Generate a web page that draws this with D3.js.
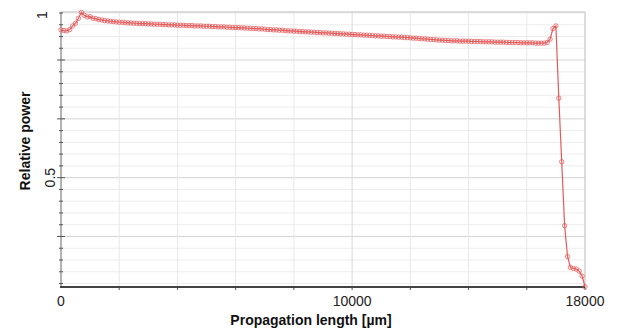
<!DOCTYPE html>
<html>
<head>
<meta charset="utf-8">
<script src="https://cdn.jsdelivr.net/npm/d3@7"></script>
<style>
  body { margin: 0; background: #fff; }
  svg { display: block; font-family: Arial, "Liberation Sans", sans-serif; }
</style>
</head>
<body>
<div id="chart"></div>
<script>
// Propagation length [µm], sampled every 100 µm
const positions = [
  0, 100, 200, 300, 400, 500, 600, 700, 800, 900,
  1000, 1100, 1200, 1300, 1400, 1500, 1600, 1700, 1800, 1900,
  2000, 2100, 2200, 2300, 2400, 2500, 2600, 2700, 2800, 2900,
  3000, 3100, 3200, 3300, 3400, 3500, 3600, 3700, 3800, 3900,
  4000, 4100, 4200, 4300, 4400, 4500, 4600, 4700, 4800, 4900,
  5000, 5100, 5200, 5300, 5400, 5500, 5600, 5700, 5800, 5900,
  6000, 6100, 6200, 6300, 6400, 6500, 6600, 6700, 6800, 6900,
  7000, 7100, 7200, 7300, 7400, 7500, 7600, 7700, 7800, 7900,
  8000, 8100, 8200, 8300, 8400, 8500, 8600, 8700, 8800, 8900,
  9000, 9100, 9200, 9300, 9400, 9500, 9600, 9700, 9800, 9900,
  10000, 10100, 10200, 10300, 10400, 10500, 10600, 10700, 10800, 10900,
  11000, 11100, 11200, 11300, 11400, 11500, 11600, 11700, 11800, 11900,
  12000, 12100, 12200, 12300, 12400, 12500, 12600, 12700, 12800, 12900,
  13000, 13100, 13200, 13300, 13400, 13500, 13600, 13700, 13800, 13900,
  14000, 14100, 14200, 14300, 14400, 14500, 14600, 14700, 14800, 14900,
  15000, 15100, 15200, 15300, 15400, 15500, 15600, 15700, 15800, 15900,
  16000, 16100, 16200, 16300, 16400, 16500, 16600, 16700, 16800, 16900,
  17000, 17100, 17200, 17300, 17400, 17500, 17600, 17700, 17800, 17900,
  18000
];

// Relative power
const power = [
  0.946, 0.944, 0.943, 0.947, 0.958, 0.966, 0.981, 0.999, 0.990, 0.985,
  0.986, 0.981, 0.980, 0.977, 0.976, 0.974, 0.973, 0.972, 0.971, 0.970,
  0.969, 0.969, 0.968, 0.967, 0.967, 0.966, 0.966, 0.965, 0.965, 0.965,
  0.964, 0.964, 0.963, 0.963, 0.963, 0.962, 0.962, 0.961, 0.961, 0.961,
  0.960, 0.960, 0.960, 0.959, 0.959, 0.959, 0.958, 0.958, 0.958, 0.957,
  0.957, 0.957, 0.956, 0.956, 0.955, 0.955, 0.955, 0.954, 0.954, 0.953,
  0.953, 0.953, 0.952, 0.952, 0.951, 0.951, 0.950, 0.950, 0.949, 0.949,
  0.948, 0.947, 0.947, 0.946, 0.946, 0.945, 0.945, 0.944, 0.943, 0.943,
  0.942, 0.942, 0.941, 0.941, 0.940, 0.940, 0.939, 0.939, 0.938, 0.938,
  0.937, 0.937, 0.936, 0.936, 0.935, 0.935, 0.934, 0.934, 0.933, 0.933,
  0.932, 0.932, 0.931, 0.931, 0.930, 0.930, 0.929, 0.929, 0.928, 0.928,
  0.927, 0.927, 0.926, 0.926, 0.925, 0.925, 0.924, 0.924, 0.923, 0.923,
  0.922, 0.921, 0.921, 0.920, 0.919, 0.919, 0.918, 0.917, 0.917, 0.916,
  0.915, 0.915, 0.914, 0.914, 0.913, 0.913, 0.913, 0.912, 0.912, 0.912,
  0.912, 0.911, 0.911, 0.911, 0.911, 0.910, 0.910, 0.910, 0.910, 0.909,
  0.909, 0.909, 0.909, 0.908, 0.908, 0.908, 0.908, 0.908, 0.907, 0.907,
  0.907, 0.907, 0.907, 0.906, 0.906, 0.906, 0.906, 0.908, 0.918, 0.950,
  0.958, 0.740, 0.548, 0.355, 0.262, 0.229, 0.226, 0.224, 0.218, 0.203,
  0.171
];

// Axis ticks
const xTicks = [0, 2000, 4000, 6000, 8000, 10000, 12000, 14000, 16000, 18000];
const xTickLabels = [0, 10000, 18000];
const yMinorTicks = [
  0.1805, 0.216, 0.2515, 0.287, 0.3225, 0.358, 0.3935, 0.429, 0.4645, 0.5,
  0.5355, 0.571, 0.6065, 0.642, 0.6775, 0.713, 0.7485, 0.784, 0.8195, 0.855,
  0.8905, 0.926, 0.9615, 0.997
];
const yMajorTicks = [0.3225, 0.5, 0.6775, 0.855];
const yTickLabels = [1, 0.5];

const config = {
  width: 618,
  height: 333,
  margin: {top: 12, right: 33, bottom: 46, left: 61},
  lineColor: '#e45a5a'
};

const innerW = config.width - config.margin.left - config.margin.right;
const innerH = config.height - config.margin.top - config.margin.bottom;

const svg = d3.select('#chart').append('svg')
  .attr('width', config.width)
  .attr('height', config.height);

svg.append('rect')
  .attr('width', config.width)
  .attr('height', config.height)
  .attr('fill', '#fff');

const chart = svg.append('g')
  .attr('transform', `translate(${config.margin.left},${config.margin.top})`);

const x = d3.scaleLinear().domain([0, 18000]).range([0, innerW]);
const y = d3.scaleLinear().domain([0.17, 1]).range([innerH, 0]);

// Grid lines
chart.append('g').selectAll('line')
  .data(yMinorTicks)
  .join('line')
  .attr('x1', 0).attr('x2', innerW)
  .attr('y1', d => y(d)).attr('y2', d => y(d))
  .attr('stroke', d => yMajorTicks.includes(d) ? '#d4d4d4' : '#ececec')
  .attr('stroke-width', 1);

chart.append('g').selectAll('line')
  .data(xTicks.filter(d => d > 0 && d < 18000))
  .join('line')
  .attr('x1', d => x(d)).attr('x2', d => x(d))
  .attr('y1', 0).attr('y2', innerH)
  .attr('stroke', d => d === 10000 ? '#d8d8d8' : '#e8e8e8')
  .attr('stroke-width', 1);

// Frame: light top/right, dark left/bottom
chart.append('line')
  .attr('x1', 0).attr('x2', innerW).attr('y1', 0).attr('y2', 0)
  .attr('stroke', '#d0d0d0').attr('stroke-width', 1.5);
chart.append('line')
  .attr('x1', innerW).attr('x2', innerW).attr('y1', 0).attr('y2', innerH)
  .attr('stroke', '#d0d0d0').attr('stroke-width', 1.5);

// Y axis with custom ticks
chart.append('line')
  .attr('x1', 0).attr('x2', 0).attr('y1', 0).attr('y2', innerH)
  .attr('stroke', '#666').attr('stroke-width', 1);
chart.append('g').selectAll('line')
  .data(yMinorTicks)
  .join('line')
  .attr('x1', d => yMajorTicks.includes(d) ? -4 : -2)
  .attr('x2', d => yMajorTicks.includes(d) ? 4 : 2)
  .attr('y1', d => y(d)).attr('y2', d => y(d))
  .attr('stroke', '#555').attr('stroke-width', 1);

// X axis
chart.append('g').selectAll('line')
  .data(xTicks.filter(d => d > 0))
  .join('line')
  .attr('x1', d => x(d)).attr('x2', d => x(d))
  .attr('y1', innerH).attr('y2', innerH + 3)
  .attr('stroke', '#555').attr('stroke-width', 1);
chart.append('line')
  .attr('x1', -1).attr('x2', innerW).attr('y1', innerH).attr('y2', innerH)
  .attr('stroke', '#444').attr('stroke-width', 2);

// Tick labels
chart.append('g').selectAll('text')
  .data(xTickLabels)
  .join('text')
  .attr('x', d => x(d))
  .attr('y', innerH + 19)
  .attr('text-anchor', 'middle')
  .style('font-size', '14px')
  .attr('fill', '#222')
  .text(d => d);

chart.append('g').selectAll('text')
  .data(yTickLabels)
  .join('text')
  .attr('transform', d => d === 1
    ? `translate(-14,${y(d) + 3}) rotate(-90)`
    : `translate(-6,${y(d)}) rotate(-90)`)
  .attr('text-anchor', 'middle')
  .style('font-size', '14px')
  .attr('fill', '#222')
  .text(d => d);

// Axis titles
svg.append('text')
  .attr('x', 311)
  .attr('y', 325)
  .attr('text-anchor', 'middle')
  .style('font-size', '14px')
  .style('font-weight', 'bold')
  .attr('fill', '#111')
  .text('Propagation length [µm]');

svg.append('text')
  .attr('transform', 'translate(30,141) rotate(-90)')
  .attr('text-anchor', 'middle')
  .style('font-size', '14px')
  .style('font-weight', 'bold')
  .attr('fill', '#111')
  .text('Relative power');

// Curve with open circle markers
const points = positions.map((p, i) => ({x: p, y: power[i]}));

chart.append('path')
  .datum(points)
  .attr('fill', 'none')
  .attr('stroke', config.lineColor)
  .attr('stroke-width', 1.2)
  .attr('d', d3.line().x(d => x(d.x)).y(d => y(d.y)));

chart.append('g').selectAll('circle')
  .data(points)
  .join('circle')
  .attr('cx', d => x(d.x))
  .attr('cy', d => y(d.y))
  .attr('r', 2.2)
  .attr('fill', 'none')
  .attr('stroke', config.lineColor)
  .attr('stroke-width', 1)
  .attr('stroke-opacity', 0.75);
</script>
</body>
</html>
